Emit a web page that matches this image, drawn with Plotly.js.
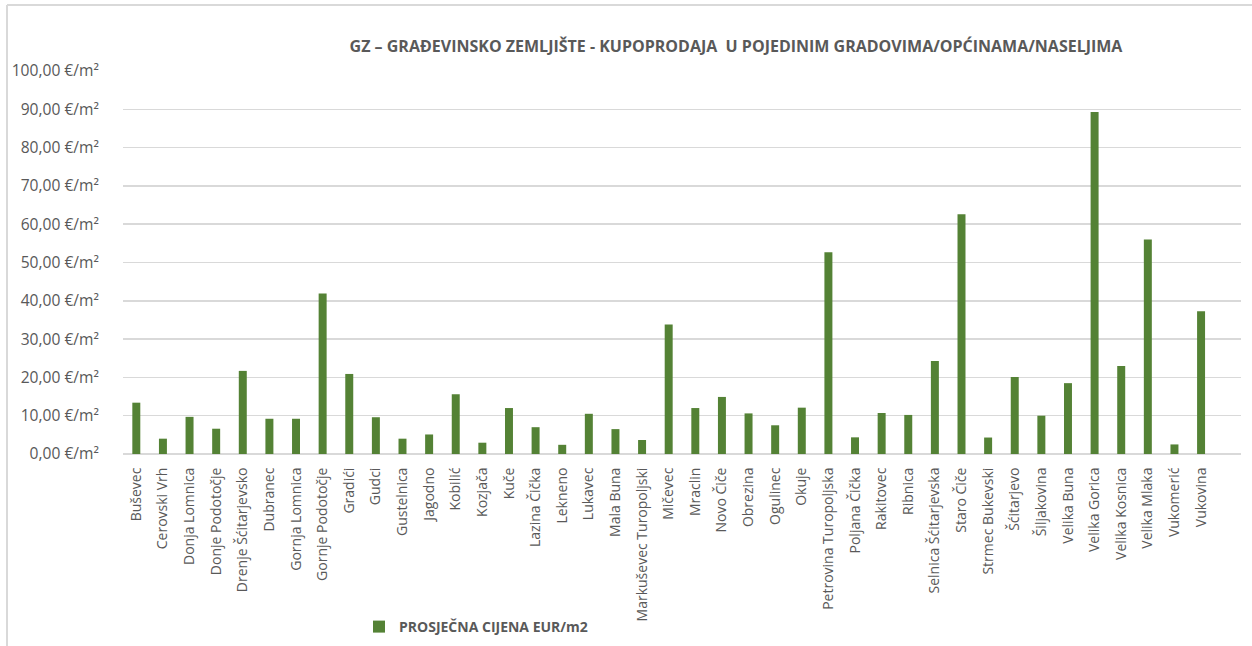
<!DOCTYPE html>
<html>
<head>
<meta charset="utf-8">
<script src="https://cdn.plot.ly/plotly-3.0.1.min.js"></script>
<style>html,body{margin:0;padding:0;background:#fff;}#chart{width:1252px;height:646px;}</style>
</head>
<body>
<div id="chart"></div>
<script>
const categories = ["Buševec","Cerovski Vrh","Donja Lomnica","Donje Podotočje","Drenje Šćitarjevsko","Dubranec","Gornja Lomnica","Gornje Podotočje","Gradići","Gudci","Gustelnica","Jagodno","Kobilić","Kozjača","Kuče","Lazina Čička","Lekneno","Lukavec","Mala Buna","Markuševec Turopoljski","Mičevec","Mraclin","Novo Čiče","Obrezina","Ogulinec","Okuje","Petrovina Turopoljska","Poljana Čička","Rakitovec","Ribnica","Selnica Šćitarjevska","Staro Čiče","Strmec Bukevski","Šćitarjevo","Šiljakovina","Velika Buna","Velika Gorica","Velika Kosnica","Velika Mlaka","Vukomerić","Vukovina"];
const prices = [13.4,4.0,9.7,6.6,21.7,9.2,9.2,41.9,20.9,9.6,4.0,5.1,15.6,2.95,12.0,7.0,2.4,10.5,6.5,3.65,33.8,12.0,14.9,10.6,7.5,12.1,52.7,4.35,10.7,10.2,24.3,62.6,4.3,20.1,10.0,18.5,89.3,23.0,56.0,2.5,37.3];
const seriesName = "PROSJEČNA CIJENA EUR/m2";
const chartTitle = "GZ – GRAĐEVINSKO ZEMLJIŠTE - KUPOPRODAJA  U POJEDINIM GRADOVIMA/OPĆINAMA/NASELJIMA";
const yTicks = [0,10,20,30,40,50,60,70,80,90,100];

const W = 1252, H = 646, L = 123, R = 1241, T = 71, B = 454;
const px2x = p => (p - L) / (R - L);
const py2y = p => (B - p) / (B - T);

const trace = {
  type: "bar",
  x: categories.map((c, i) => i),
  y: prices,
  name: seriesName,
  marker: {color: "#548235", line: {color: "#548235", width: 0}},
  width: 0.3,
  hoverinfo: "y"
};

const layout = {
  width: W, height: H,
  margin: {l: L, r: W - R, t: T, b: H - B, pad: 0},
  paper_bgcolor: "#fff", plot_bgcolor: "#fff",
  separators: ",.",
  font: {family: "Open Sans, sans-serif", color: "#595959"},
  title: {
    text: "<b>" + chartTitle + "</b>",
    font: {family: "Open Sans, sans-serif", size: 16, color: "#595959"},
    xref: "container", yref: "container",
    x: 736 / W, xanchor: "center",
    y: 1 - 46 / H, yanchor: "middle"
  },
  xaxis: {
    range: [-0.5, 41.5],
    tickmode: "array",
    tickvals: categories.map((c, i) => i),
    ticktext: categories,
    tickangle: -90,
    tickfont: {size: 14, color: "#595959"},
    showgrid: false, zeroline: false,
    showline: false,
    ticks: "outside", ticklen: 7, tickcolor: "rgba(0,0,0,0)",
    fixedrange: true
  },
  yaxis: {
    range: [0, 100],
    tickmode: "array",
    tickvals: yTicks,
    ticktext: yTicks.map(v => v.toFixed(2).replace(".", ",") + " €/m²"),
    tickfont: {size: 15.6, color: "#595959"},
    showgrid: true, gridcolor: "#d9d9d9", gridwidth: 1.5,
    zeroline: true, zerolinecolor: "#d9d9d9", zerolinewidth: 1.5,
    showline: false,
    ticks: "outside", ticklen: 20, tickcolor: "rgba(0,0,0,0)",
    fixedrange: true
  },
  showlegend: true,
  legend: {
    orientation: "h",
    xref: "container", yref: "container",
    x: 359 / W, xanchor: "left",
    y: 1 - 627 / H, yanchor: "middle",
    font: {family: "Open Sans, sans-serif", size: 14, color: "#595959", weight: "bold"},
    itemwidth: 30,
    bgcolor: "rgba(0,0,0,0)"
  },
  shapes: [
    {type: "line", xref: "paper", yref: "paper", x0: px2x(7), x1: px2x(1252), y0: py2y(5), y1: py2y(5), line: {color: "#d9d9d9", width: 2}},
    {type: "line", xref: "paper", yref: "paper", x0: px2x(7), x1: px2x(7), y0: py2y(5), y1: py2y(646), line: {color: "#d9d9d9", width: 2}}
  ]
};

Plotly.newPlot("chart", [trace], layout, {displayModeBar: false, staticPlot: true});
</script>
</body>
</html>
